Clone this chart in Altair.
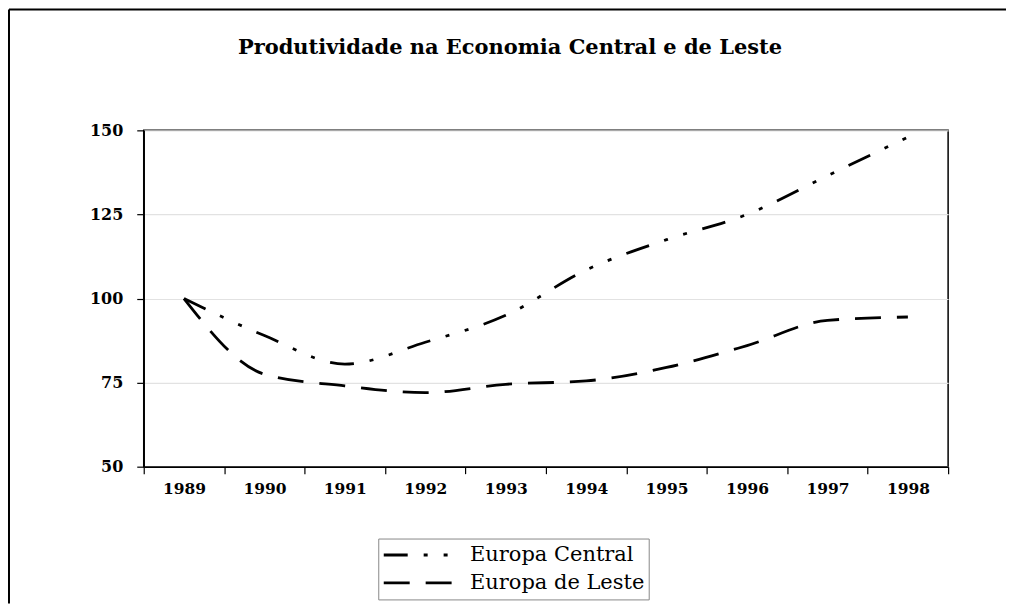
import altair as alt
import pandas as pd

years = ["1989", "1990", "1991", "1992", "1993", "1994", "1995", "1996", "1997", "1998"]
central = [100, 89, 80.5, 87, 95, 108.5, 117.5, 125, 136.5, 148]
leste = [100, 77.5, 74, 72, 74.5, 75.5, 79.5, 86, 93.5, 94.5]
series_names = ["Europa Central", "Europa de Leste"]
y_ticks = [50, 75, 100, 125, 150]
title_text = "Produtividade na Economia Central e de Leste"

df = pd.DataFrame({
    "Ano": years + years,
    "Valor": central + leste,
    "Serie": [series_names[0]] * len(years) + [series_names[1]] * len(years),
})

FONT = "DejaVu Serif"

lines = alt.Chart(df).mark_line(interpolate="monotone", strokeWidth=2.8, color="black").encode(
    x=alt.X("Ano:O", bandPosition=0.5,
            scale=alt.Scale(type="band", paddingInner=0, paddingOuter=0),
            axis=alt.Axis(title=None, labelAngle=0, tickBand="extent", grid=False,
                          tickSize=7, labelPadding=8, labelFont=FONT, labelFontSize=15.5,
                          labelFontWeight="bold", labelColor="black", domainColor="black",
                          tickColor="black", domainWidth=1.5, tickWidth=1.2)),
    y=alt.Y("Valor:Q", scale=alt.Scale(domain=[50, 150], nice=False, zero=False),
            axis=alt.Axis(title=None, values=y_ticks, grid=True, gridColor="#e2e2e2",
                          gridWidth=1.2, tickSize=7, labelPadding=14, labelFont=FONT,
                          labelFontSize=16, labelFontWeight="bold", labelColor="black",
                          domainColor="black", tickColor="black", domainWidth=1.5,
                          tickWidth=1.2)),
    strokeDash=alt.StrokeDash(
        "Serie:N",
        scale=alt.Scale(domain=series_names, range=[[24, 16, 4, 16, 4, 16], [26, 16]]),
        legend=alt.Legend(title=None, orient="none", legendX=235, legendY=409,
                          symbolType="stroke", symbolSize=6400, symbolStrokeWidth=2.8,
                          symbolStrokeColor="black", labelFont=FONT, labelFontSize=21,
                          labelColor="black", labelOffset=5, strokeColor="#888888",
                          fillColor="white", padding=4, rowPadding=3, clipHeight=25,
                          labelLimit=400),
    ),
)

frame_data = pd.DataFrame({"a": [0]})
top_border = alt.Chart(frame_data).mark_rule(stroke="black", strokeWidth=2).encode(
    x=alt.value(-135), x2=alt.value(864), y=alt.value(-121), y2=alt.value(-121)
)
left_border = alt.Chart(frame_data).mark_rule(stroke="black", strokeWidth=2).encode(
    x=alt.value(-135), x2=alt.value(-135), y=alt.value(-121), y2=alt.value(474)
)

title = alt.Chart(pd.DataFrame({"t": [title_text]})).mark_text(
    font=FONT, fontSize=21, fontWeight="bold", align="center", baseline="middle", color="black"
).encode(text="t:N", x=alt.value(367), y=alt.value(-83))

chart = alt.layer(top_border, left_border, lines, title).properties(
    width=806, height=337, padding=0
).configure_view(stroke="black", strokeWidth=1.5)

chart.save("out.html", embed_options={"renderer": "svg", "actions": False})
